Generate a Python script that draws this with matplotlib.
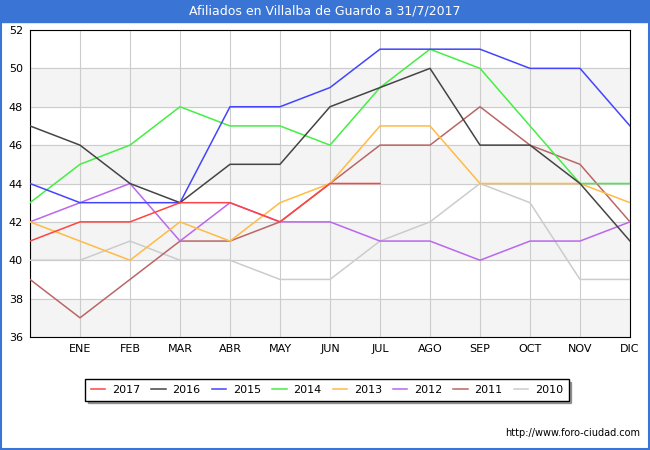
import matplotlib
matplotlib.use("Agg")
import matplotlib.pyplot as plt
from matplotlib.patches import Rectangle

months = ["", "ENE", "FEB", "MAR", "ABR", "MAY", "JUN", "JUL", "AGO", "SEP", "OCT", "NOV", "DIC"]
s2017 = [41, 42, 42, 43, 43, 42, 44, 44]
s2016 = [47, 46, 44, 43, 45, 45, 48, 49, 50, 46, 46, 44, 41]
s2015 = [44, 43, 43, 43, 48, 48, 49, 51, 51, 51, 50, 50, 47]
s2014 = [43, 45, 46, 48, 47, 47, 46, 49, 51, 50, 47, 44, 44]
s2013 = [42, 41, 40, 42, 41, 43, 44, 47, 47, 44, 44, 44, 43]
s2012 = [42, 43, 44, 41, 43, 42, 42, 41, 41, 40, 41, 41, 42]
s2011 = [39, 37, 39, 41, 41, 42, 44, 46, 46, 48, 46, 45, 42]
s2010 = [40, 40, 41, 40, 40, 39, 39, 41, 42, 44, 43, 39, 39]

series = [("2017", s2017, "#ff4444"), ("2016", s2016, "#444444"), ("2015", s2015, "#4444ff"),
          ("2014", s2014, "#44ee44"), ("2013", s2013, "#ffbb44"), ("2012", s2012, "#bb66ee"),
          ("2011", s2011, "#bb6666"), ("2010", s2010, "#cccccc")]

fig = plt.figure(figsize=(6.5, 4.5), dpi=100)
fig.patch.set_facecolor("white")
fig.add_artist(Rectangle((0, 1 - 22/450), 1, 22/450, transform=fig.transFigure, color="#3a75d6"))
fig.add_artist(Rectangle((1/650, 1/450), 648/650, 448/450, transform=fig.transFigure,
                         fill=False, edgecolor="#3a75d6", lw=1.5))
fig.text(0.5, 1 - 11/450, "Afiliados en Villalba de Guardo a 31/7/2017", ha="center", va="center",
         color="white", fontsize=9)

ax = fig.add_axes([30/650, 1 - 337/450, 600/650, 307/450])
for lo in (36, 40, 44, 48):
    ax.axhspan(lo, lo + 2, color="#f4f4f4", zorder=0)
ax.grid(True, color="#cccccc", lw=0.8, zorder=1)
for name, vals, c in series[::-1]:
    ax.plot(range(len(vals)), vals, color=c, lw=1.1, zorder=3, label=name)
ax.set_xlim(0, 12)
ax.set_ylim(36, 52)
ax.set_xticks(range(13))
ax.set_xticklabels(months, fontsize=8)
ax.set_yticks(range(36, 53, 2))
ax.tick_params(labelsize=8, length=0, pad=5)
for s in ax.spines.values():
    s.set_color("#000000"); s.set_linewidth(0.8)

h, l = ax.get_legend_handles_labels()
leg = fig.legend(h[::-1], l[::-1], loc="center", bbox_to_anchor=(327/650, 1 - 390/450), ncol=8,
                 fontsize=8, frameon=True, fancybox=False, shadow=True, edgecolor="#000000",
                 handlelength=1.3, handletextpad=0.6, columnspacing=1.0, borderpad=0.5)
fig.text(640/650, 1 - 433/450, "http://www.foro-ciudad.com", ha="right", va="center", fontsize=7)
fig.savefig("out.png", dpi=100)
